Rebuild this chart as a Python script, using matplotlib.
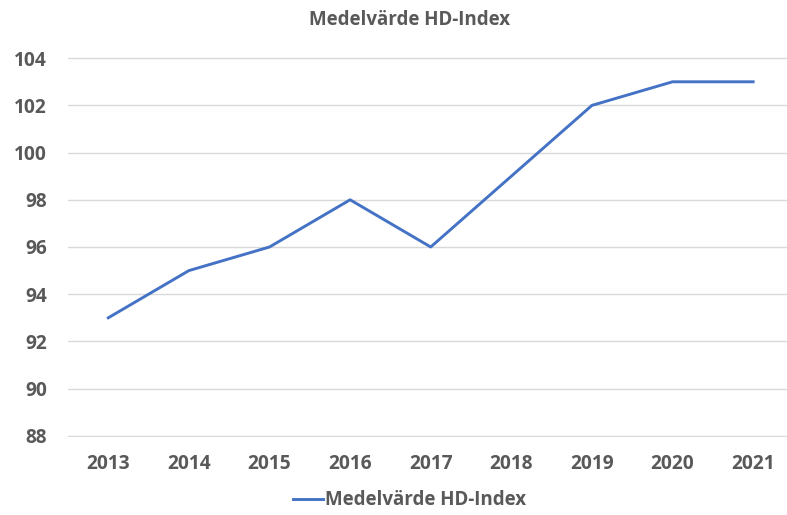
import matplotlib.pyplot as plt

years = ["2013", "2014", "2015", "2016", "2017", "2018", "2019", "2020", "2021"]
hd_index = [93, 95, 96, 98, 96, 99, 102, 103, 103]
series_name = "Medelvärde HD-Index"
yticks = [88, 90, 92, 94, 96, 98, 100, 102, 104]

GRAY = "#595959"
plt.rcParams["font.family"] = ["Open Sans", "DejaVu Sans"]
plt.rcParams["font.weight"] = "bold"

fig = plt.figure(figsize=(7.87, 5.15), dpi=100)
ax = fig.add_axes([0.0864, 0.1515, 0.9136, 0.7378])

x = list(range(len(years)))
ax.plot(x, hd_index, color="#4472C4", linewidth=2.1, label=series_name)

ax.set_ylim(87.95, 104.05)
ax.set_xlim(-0.5, 8.42)
ax.set_yticks(yticks)
ax.set_xticks(x)
ax.set_xticklabels(years)
ax.grid(axis="y", color="#D9D9D9", linewidth=1.0)
ax.set_axisbelow(True)
for s in ax.spines.values():
    s.set_visible(False)
ax.tick_params(length=0, labelsize=13.8, colors=GRAY)
ax.tick_params(axis="y", pad=15)
ax.tick_params(axis="x", pad=12)

fig.text(0.52, 0.962, "Medelvärde HD-Index", ha="center", va="center",
         fontsize=13.5, color=GRAY, fontweight="bold")

leg = fig.legend(loc="center", bbox_to_anchor=(0.52, 0.029), frameon=False,
                 fontsize=13.5, handlelength=1.6, handletextpad=0.1)
for t in leg.get_texts():
    t.set_color(GRAY)

fig.savefig("out.png")
